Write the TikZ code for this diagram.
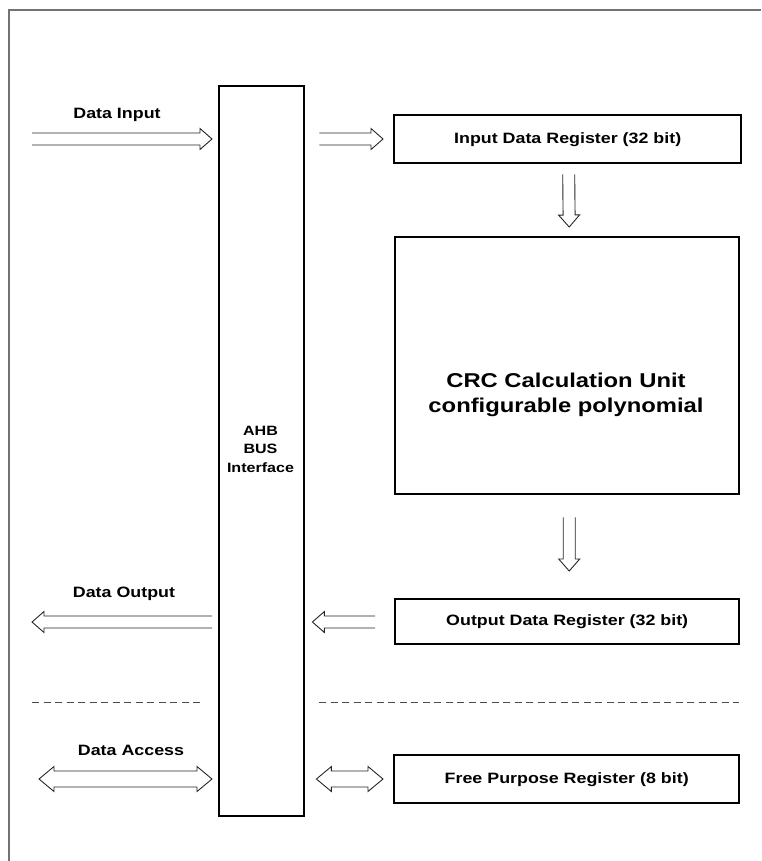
\documentclass[tikz,border=0pt]{standalone}
\usepackage{fontspec}
\setmainfont[FakeStretch=1.19]{Liberation Sans}
\usetikzlibrary{calc}
\tikzset{
  box/.style={draw=black, line width=2.4pt, inner sep=0pt, anchor=north west, font=\bfseries\fontsize{15}{18}\selectfont, align=center},
  lbl/.style={font=\bfseries\fontsize{15}{18}\selectfont, inner sep=0pt},
  thin/.style={draw=black!85, line width=0.9pt, line join=miter},
  blockarrow/.style={thin, to path={
    let \p1=(\tikztostart), \p2=(\tikztotarget),
        \n1={atan2(\y2-\y1,\x2-\x1)}, \n2={veclen(\x2-\x1,\y2-\y1)} in
    {[shift={(\p1)}, rotate=\n1]
      (0pt,6pt) -- ({\n2*1pt-12pt},6pt) -- ({\n2*1pt-12pt},10.5pt) -- ({\n2*1pt},0pt)
      -- ({\n2*1pt-12pt},-10.5pt) -- ({\n2*1pt-12pt},-6pt) -- (0pt,-6pt)}
  }},
  dblarrow/.style={thin, to path={
    let \p1=(\tikztostart), \p2=(\tikztotarget),
        \n1={atan2(\y2-\y1,\x2-\x1)}, \n2={veclen(\x2-\x1,\y2-\y1)} in
    {[shift={(\p1)}, rotate=\n1]
      (0pt,0pt) -- (15pt,12.5pt) -- (15pt,8pt) -- ({\n2*1pt-15pt},8pt) -- ({\n2*1pt-15pt},12.5pt)
      -- ({\n2*1pt},0pt) -- ({\n2*1pt-15pt},-12.5pt) -- ({\n2*1pt-15pt},-8pt)
      -- (15pt,-8pt) -- (15pt,-12.5pt) -- cycle}
  }},
  sep/.style={draw=black!70, line width=0.8pt, dash pattern=on 7pt off 4.5pt}
}
\begin{document}
\begin{tikzpicture}[x=1pt,y=-1pt]
\useasboundingbox (0,0) rectangle (761,861);
% frame
\draw[draw=black!55, line width=1.6pt] (9,861) -- (9,10) -- (761,10);

% boxes
\node[box, minimum width=85pt, minimum height=730pt] (ahb) at (218,85) {};
\node[font=\bfseries\fontsize{13.5}{18.5}\selectfont, align=center] (ahbt) at (260.5,449) {AHB\\BUS\\Interface};
\node[box, minimum width=347pt, minimum height=48pt] (in1) at (393,114) {Input Data Register (32 bit)};
\node[box, minimum width=344pt, minimum height=257pt] (crc) at (394,236) {};
\node[font=\bfseries\fontsize{20}{25}\selectfont, align=center] (crct) at (566,395) {CRC Calculation Unit\\configurable polynomial};
\node[box, minimum width=344pt, minimum height=45pt] (out1) at (394,598) {Output Data Register (32 bit)};
\node[box, minimum width=345pt, minimum height=48pt] (free) at (393,754) {Free Purpose Register (8 bit)};

% labels
\node[lbl] (lin) at (117,115) {Data Input};
\node[lbl] (lout) at (124,594) {Data Output};
\node[lbl] (lacc) at (131,750) {Data Access};

% free ends
\coordinate (dinL) at (32,139);
\coordinate (doutL) at (32,622);
\coordinate (daccL) at (39,779);

% arrows
\draw[blockarrow] (dinL) to ($(ahb.west|-dinL)+(-6,0)$);
\draw[blockarrow] ($(ahb.east|-dinL)+(14,0)$) to ($(in1.west|-dinL)+(-10,0)$);
\draw[blockarrow] ($(in1.south)+(1,10)$) to ($(crc.north)+(2,-9)$);
\draw[blockarrow] ($(crc.south)+(2,22)$) to ($(out1.north)+(2,-27)$);
\draw[blockarrow] ($(out1.west|-doutL)+(-19,0)$) to ($(ahb.east|-doutL)+(7,0)$);
\draw[blockarrow] ($(ahb.west|-doutL)+(-6,0)$) to (doutL);
\draw[dblarrow] (daccL) to ($(ahb.west|-daccL)+(-6,0)$);
\draw[dblarrow] ($(ahb.east|-daccL)+(11,0)$) to ($(free.west|-daccL)+(-10,0)$);

% separators
\draw[sep] (32,702) -- ($(ahb.west|-0,702)+(-16,0)$);
\draw[sep] ($(ahb.east|-0,702)+(14,0)$) -- (739,702);
\end{tikzpicture}
\end{document}
